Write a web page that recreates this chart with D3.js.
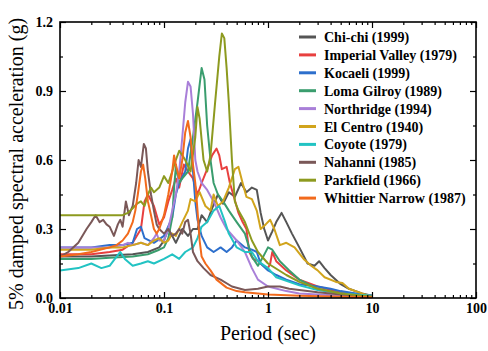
<!DOCTYPE html>
<html><head><meta charset="utf-8">
<script src="https://cdn.jsdelivr.net/npm/d3@7"></script>
<style>body{margin:0;background:#fff}svg{display:block}
svg text{font-family:"Liberation Serif","Times New Roman",Times,"DejaVu Serif",serif !important;}</style>
</head><body><div id="chart"></div>
<script>
const seriesNames = ["Chi-chi (1999)","Imperial Valley (1979)","Kocaeli (1999)","Loma Gilroy (1989)","Northridge (1994)","El Centro (1940)","Coyote (1979)","Nahanni (1985)","Parkfield (1966)","Whittier Narrow (1987)"];
const seriesColors = ["#555555","#e8403f","#2d6fcc","#3a9d6e","#a97fd8","#d1a41c","#22c3c3","#7a5858","#8d9a1f","#f26a1c"];

const chichi = [[0.01,0.18],[0.02,0.18],[0.03,0.185],[0.05,0.19],[0.07,0.2],[0.09,0.22],[0.1,0.25],[0.11,0.3],[0.12,0.27],[0.13,0.24],[0.15,0.3],[0.17,0.27],[0.19,0.3],[0.21,0.3],[0.23,0.36],[0.26,0.33],[0.29,0.39],[0.33,0.45],[0.37,0.41],[0.42,0.46],[0.48,0.44],[0.55,0.5],[0.62,0.46],[0.7,0.48],[0.78,0.47],[0.85,0.37],[0.92,0.3],[1.0,0.25],[1.1,0.29],[1.2,0.33],[1.35,0.37],[1.5,0.33],[1.7,0.28],[2.0,0.22],[2.4,0.15],[2.8,0.14],[3.1,0.16],[3.5,0.13],[4,0.1],[5,0.06],[6,0.04],[8,0.02],[10,0.01]];
const imperial = [[0.01,0.19],[0.02,0.19],[0.03,0.2],[0.04,0.21],[0.05,0.24],[0.06,0.3],[0.065,0.42],[0.07,0.45],[0.08,0.4],[0.09,0.32],[0.1,0.35],[0.11,0.42],[0.12,0.47],[0.13,0.52],[0.14,0.48],[0.155,0.58],[0.17,0.55],[0.19,0.52],[0.21,0.45],[0.23,0.5],[0.26,0.56],[0.29,0.62],[0.32,0.65],[0.34,0.62],[0.36,0.56],[0.4,0.57],[0.43,0.5],[0.47,0.44],[0.52,0.37],[0.57,0.33],[0.62,0.3],[0.66,0.2],[0.72,0.17],[0.8,0.16],[0.9,0.14],[1.0,0.13],[1.05,0.15],[1.1,0.2],[1.2,0.16],[1.5,0.12],[2,0.08],[3,0.05],[5,0.025],[10,0.01]];
const kocaeli = [[0.01,0.22],[0.02,0.22],[0.03,0.23],[0.04,0.23],[0.05,0.24],[0.055,0.3],[0.06,0.31],[0.065,0.26],[0.08,0.24],[0.1,0.27],[0.12,0.35],[0.13,0.45],[0.14,0.5],[0.16,0.55],[0.17,0.65],[0.18,0.69],[0.19,0.55],[0.2,0.42],[0.21,0.34],[0.23,0.27],[0.26,0.22],[0.3,0.2],[0.35,0.22],[0.4,0.2],[0.45,0.22],[0.5,0.25],[0.6,0.22],[0.7,0.21],[0.78,0.2],[0.85,0.15],[1,0.12],[1.2,0.1],[1.5,0.08],[2,0.06],[3,0.05],[4,0.04],[5,0.03],[7,0.02],[10,0.01]];
const loma = [[0.01,0.17],[0.02,0.17],[0.03,0.175],[0.05,0.18],[0.07,0.19],[0.09,0.21],[0.1,0.22],[0.11,0.26],[0.12,0.35],[0.125,0.48],[0.13,0.57],[0.14,0.5],[0.15,0.52],[0.17,0.55],[0.19,0.7],[0.21,0.85],[0.23,1.0],[0.245,0.95],[0.26,0.75],[0.28,0.6],[0.3,0.5],[0.33,0.45],[0.37,0.42],[0.42,0.38],[0.5,0.33],[0.6,0.28],[0.7,0.18],[0.8,0.14],[0.9,0.18],[1.0,0.22],[1.1,0.21],[1.3,0.16],[1.6,0.12],[2,0.08],[3,0.04],[5,0.02],[10,0.005]];
const northridge = [[0.01,0.22],[0.02,0.22],[0.03,0.22],[0.04,0.23],[0.045,0.24],[0.05,0.23],[0.06,0.24],[0.07,0.23],[0.08,0.26],[0.085,0.28],[0.09,0.25],[0.1,0.25],[0.11,0.3],[0.12,0.38],[0.13,0.45],[0.14,0.55],[0.15,0.7],[0.16,0.85],[0.17,0.94],[0.18,0.92],[0.19,0.8],[0.2,0.6],[0.21,0.55],[0.23,0.5],[0.26,0.47],[0.3,0.42],[0.35,0.35],[0.4,0.3],[0.5,0.25],[0.6,0.2],[0.7,0.13],[0.8,0.08],[1,0.05],[1.5,0.03],[2,0.02],[3,0.015],[5,0.01],[10,0.005]];
const elcentro = [[0.01,0.21],[0.02,0.21],[0.03,0.22],[0.04,0.22],[0.05,0.23],[0.06,0.24],[0.07,0.23],[0.08,0.25],[0.09,0.26],[0.1,0.24],[0.11,0.25],[0.12,0.28],[0.13,0.27],[0.15,0.33],[0.17,0.38],[0.18,0.43],[0.2,0.42],[0.22,0.46],[0.25,0.4],[0.28,0.38],[0.3,0.45],[0.33,0.4],[0.37,0.42],[0.42,0.48],[0.48,0.56],[0.52,0.57],[0.57,0.5],[0.62,0.44],[0.7,0.43],[0.78,0.38],[0.85,0.3],[0.95,0.32],[1.05,0.34],[1.15,0.3],[1.3,0.23],[1.5,0.24],[1.8,0.22],[2.2,0.17],[2.6,0.14],[3,0.12],[3.5,0.09],[4.5,0.07],[5.2,0.065],[6,0.04],[8,0.02],[10,0.005]];
const coyote = [[0.01,0.12],[0.015,0.13],[0.02,0.15],[0.025,0.13],[0.03,0.14],[0.035,0.18],[0.038,0.2],[0.042,0.17],[0.05,0.14],[0.06,0.15],[0.07,0.16],[0.08,0.15],[0.1,0.17],[0.12,0.19],[0.14,0.17],[0.16,0.2],[0.19,0.22],[0.21,0.26],[0.23,0.31],[0.26,0.33],[0.3,0.38],[0.34,0.4],[0.38,0.34],[0.42,0.28],[0.5,0.22],[0.6,0.2],[0.7,0.2],[0.8,0.16],[1.0,0.13],[1.2,0.09],[2,0.055],[3,0.035],[5,0.02],[10,0.01]];
const nahanni = [[0.01,0.18],[0.012,0.2],[0.015,0.24],[0.018,0.3],[0.02,0.33],[0.022,0.36],[0.024,0.33],[0.026,0.34],[0.028,0.32],[0.03,0.31],[0.033,0.27],[0.036,0.32],[0.038,0.34],[0.04,0.31],[0.043,0.42],[0.046,0.36],[0.05,0.4],[0.054,0.5],[0.057,0.6],[0.06,0.57],[0.064,0.67],[0.067,0.65],[0.07,0.55],[0.075,0.45],[0.08,0.38],[0.085,0.32],[0.09,0.3],[0.1,0.28],[0.11,0.3],[0.12,0.27],[0.13,0.28],[0.14,0.3],[0.15,0.28],[0.16,0.33],[0.17,0.34],[0.18,0.28],[0.19,0.2],[0.21,0.16],[0.24,0.13],[0.28,0.1],[0.35,0.08],[0.45,0.05],[0.6,0.035],[0.8,0.04],[1.0,0.05],[1.3,0.05],[1.6,0.04],[2,0.035],[3,0.025],[5,0.015],[10,0.005]];
const parkfield = [[0.01,0.36],[0.02,0.36],[0.03,0.36],[0.04,0.36],[0.045,0.37],[0.05,0.39],[0.055,0.41],[0.06,0.42],[0.065,0.4],[0.07,0.45],[0.075,0.48],[0.08,0.46],[0.09,0.48],[0.1,0.53],[0.11,0.5],[0.12,0.55],[0.13,0.6],[0.14,0.64],[0.15,0.62],[0.16,0.6],[0.18,0.55],[0.2,0.7],[0.21,0.83],[0.22,0.78],[0.24,0.6],[0.26,0.55],[0.28,0.62],[0.31,0.85],[0.34,1.05],[0.36,1.15],[0.38,1.13],[0.4,1.0],[0.42,0.85],[0.45,0.6],[0.48,0.42],[0.52,0.38],[0.6,0.33],[0.7,0.25],[0.8,0.2],[1.0,0.15],[1.5,0.1],[2,0.07],[3,0.04],[5,0.02],[10,0.005]];
const whittier = [[0.01,0.18],[0.015,0.19],[0.02,0.2],[0.03,0.22],[0.035,0.23],[0.04,0.25],[0.045,0.28],[0.05,0.33],[0.053,0.38],[0.056,0.45],[0.06,0.55],[0.063,0.58],[0.066,0.52],[0.07,0.42],[0.075,0.36],[0.08,0.3],[0.085,0.28],[0.09,0.3],[0.1,0.36],[0.11,0.45],[0.12,0.55],[0.125,0.62],[0.13,0.58],[0.14,0.52],[0.15,0.6],[0.16,0.72],[0.17,0.77],[0.18,0.7],[0.19,0.58],[0.2,0.5],[0.21,0.38],[0.22,0.25],[0.23,0.18],[0.25,0.15],[0.28,0.12],[0.32,0.08],[0.4,0.045],[0.5,0.03],[0.6,0.025],[0.8,0.02],[1,0.015],[2,0.01],[5,0.005],[10,0.003]];

const seriesData = [chichi, imperial, kocaeli, loma, northridge, elcentro, coyote, nahanni, parkfield, whittier];
const xMajorTicks = [0.01, 0.1, 1, 10, 100];
const xTickLabels = ["0.01", "0.1", "1", "10", "100"];
const yMajorTicks = [0, 0.3, 0.6, 0.9, 1.2];
const yTickLabels = ["0.0", "0.3", "0.6", "0.9", "1.2"];
const yMinorTicks = [0.15, 0.45, 0.75, 1.05];

const W = 488, H = 351;
const L = 60, R = 476, T = 22, B = 298;
const svg = d3.select("#chart").append("svg").attr("width", W).attr("height", H);
const x = d3.scaleLog().domain([0.01, 100]).range([L, R]);
const y = d3.scaleLinear().domain([0, 1.2]).range([B, T]);

const xMinor = [];
for (let d = 0.01; d < 100; d *= 10) for (let k = 2; k <= 9; k++) xMinor.push(+(d * k).toPrecision(3));

const font = '"Liberation Serif","Times New Roman",Times,"DejaVu Serif",serif';

const line = d3.line().x(d => x(d[0])).y(d => y(d[1])).curve(d3.curveLinear);
const g = svg.append("g");
seriesData.forEach((s, i) => {
  g.append("path").attr("d", line(s)).attr("fill", "none")
    .attr("stroke", seriesColors[i]).attr("stroke-width", 2).attr("stroke-linejoin", "round");
});

function styleAxis(sel, labels) {
  sel.attr("font-family", null).attr("font-size", null);
  sel.select(".domain").remove();
  sel.selectAll("line").attr("stroke", "#000").attr("stroke-width", 1.2);
  sel.selectAll("text").style("font-family", font).attr("font-weight", "bold").attr("font-size", 14).attr("fill", "#000");
  if (!labels) sel.selectAll("text").remove();
}
let a;
a = svg.append("g").attr("transform", `translate(0,${B})`).call(d3.axisBottom(x).tickValues(xMajorTicks).tickSize(-6).tickPadding(5).tickFormat((d, i) => xTickLabels[i]));
styleAxis(a, true);
a = svg.append("g").attr("transform", `translate(0,${B})`).call(d3.axisBottom(x).tickValues(xMinor).tickSize(-3).tickFormat(""));
styleAxis(a, false);
a = svg.append("g").attr("transform", `translate(0,${T})`).call(d3.axisTop(x).tickValues(xMajorTicks).tickSize(-6).tickFormat(""));
styleAxis(a, false);
a = svg.append("g").attr("transform", `translate(0,${T})`).call(d3.axisTop(x).tickValues(xMinor).tickSize(-3).tickFormat(""));
styleAxis(a, false);
a = svg.append("g").attr("transform", `translate(${L},0)`).call(d3.axisLeft(y).tickValues(yMajorTicks).tickSize(-6).tickPadding(7).tickFormat((d, i) => yTickLabels[i]));
styleAxis(a, true);
a = svg.append("g").attr("transform", `translate(${L},0)`).call(d3.axisLeft(y).tickValues(yMinorTicks).tickSize(-3).tickFormat(""));
styleAxis(a, false);
a = svg.append("g").attr("transform", `translate(${R},0)`).call(d3.axisRight(y).tickValues(yMajorTicks).tickSize(-6).tickFormat(""));
styleAxis(a, false);
a = svg.append("g").attr("transform", `translate(${R},0)`).call(d3.axisRight(y).tickValues(yMinorTicks).tickSize(-3).tickFormat(""));
styleAxis(a, false);

svg.append("rect").attr("x", L).attr("y", T).attr("width", R - L).attr("height", B - T)
  .attr("fill", "none").attr("stroke", "#000").attr("stroke-width", 1.6);

svg.append("text").attr("x", x(1)).attr("y", 340).attr("text-anchor", "middle")
  .style("font-family", font).attr("font-size", 20).text("Period (sec)");
svg.append("text").attr("transform", `translate(23,${(T + B) / 2 + 4}) rotate(-90)`).attr("text-anchor", "middle")
  .style("font-family", font).attr("font-size", 20).text("5% damped spectral acceleration (g)");

const lg = svg.append("g");
seriesNames.forEach((n, i) => {
  const cy = 37 + i * 17.9;
  lg.append("line").attr("x1", 299).attr("x2", 316).attr("y1", cy).attr("y2", cy)
    .attr("stroke", seriesColors[i]).attr("stroke-width", 3);
  lg.append("text").attr("x", 324).attr("y", cy + 5).style("font-family", font)
    .attr("font-weight", "bold").attr("font-size", 14).attr("fill", "#000").text(n);
});
</script></body></html>
